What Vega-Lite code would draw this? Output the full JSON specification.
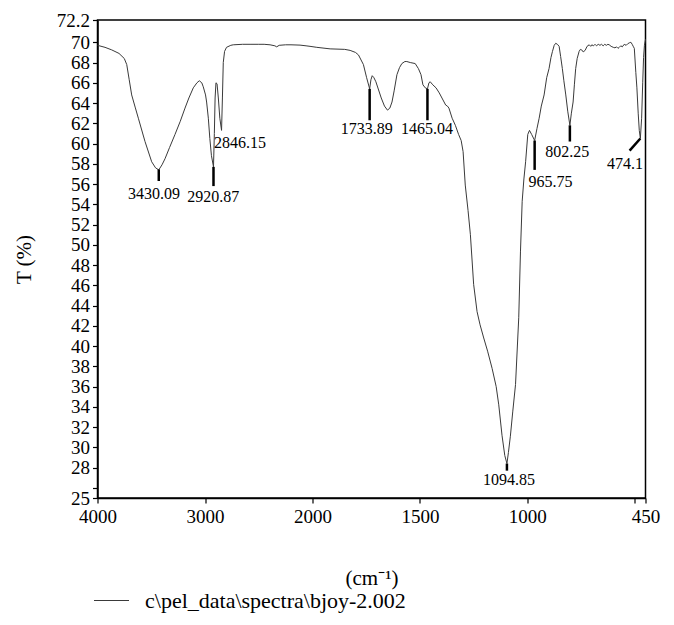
{
  "$schema": "https://vega.github.io/schema/vega-lite/v6.json",
  "width": 548,
  "height": 478,
  "autosize": {"type": "none"},
  "padding": {"left": 97.5, "top": 20, "right": 28.5, "bottom": 127},
  "background": "white",
  "config": {
    "font": "Liberation Serif",
    "view": {"stroke": "black", "strokeWidth": 1.5},
    "axis": {
      "labelFont": "Liberation Serif",
      "labelFontSize": 19,
      "labelColor": "black",
      "labelOverlap": false,
      "labelSeparation": 0,
      "labelBound": false,
      "domainColor": "black",
      "domainWidth": 1.5,
      "tickColor": "black",
      "tickWidth": 1.2,
      "tickSize": 5,
      "grid": false,
      "titleFont": "Liberation Serif",
      "titleFontSize": 21,
      "titleFontWeight": "normal",
      "titleColor": "black"
    }
  },
  "datasets": {
    "spectrum": [
      {"wn": 4000, "T": 69.7}, {"wn": 3930, "T": 69.5}, {"wn": 3868, "T": 69.25}, {"wn": 3800, "T": 68.9},
      {"wn": 3751, "T": 68.4}, {"wn": 3728, "T": 67.8}, {"wn": 3705, "T": 66.3}, {"wn": 3682, "T": 64.8},
      {"wn": 3650, "T": 63.6}, {"wn": 3620, "T": 62.5}, {"wn": 3558, "T": 60.2}, {"wn": 3496, "T": 58.2},
      {"wn": 3460, "T": 57.6}, {"wn": 3430, "T": 57.4}, {"wn": 3400, "T": 57.9}, {"wn": 3372, "T": 58.5},
      {"wn": 3330, "T": 59.6}, {"wn": 3279, "T": 60.9}, {"wn": 3230, "T": 62.2}, {"wn": 3186, "T": 63.5},
      {"wn": 3150, "T": 64.5}, {"wn": 3109, "T": 65.5}, {"wn": 3075, "T": 66.0}, {"wn": 3053, "T": 66.2},
      {"wn": 3030, "T": 66.0}, {"wn": 3016, "T": 65.6}, {"wn": 2995, "T": 64.8}, {"wn": 2985, "T": 64.1},
      {"wn": 2969, "T": 62.5}, {"wn": 2955, "T": 60.5}, {"wn": 2940, "T": 58.8}, {"wn": 2921, "T": 57.7},
      {"wn": 2913, "T": 61.0}, {"wn": 2906, "T": 64.5}, {"wn": 2898, "T": 66.0}, {"wn": 2888, "T": 65.9},
      {"wn": 2876, "T": 64.5}, {"wn": 2862, "T": 62.5}, {"wn": 2846, "T": 61.3}, {"wn": 2838, "T": 64.5},
      {"wn": 2830, "T": 68.0}, {"wn": 2818, "T": 69.1}, {"wn": 2800, "T": 69.5}, {"wn": 2760, "T": 69.7},
      {"wn": 2737, "T": 69.75}, {"wn": 2650, "T": 69.8}, {"wn": 2581, "T": 69.8}, {"wn": 2500, "T": 69.8},
      {"wn": 2450, "T": 69.8}, {"wn": 2395, "T": 69.75}, {"wn": 2350, "T": 69.65}, {"wn": 2333, "T": 69.55},
      {"wn": 2310, "T": 69.7}, {"wn": 2250, "T": 69.75}, {"wn": 2200, "T": 69.75}, {"wn": 2116, "T": 69.72},
      {"wn": 2060, "T": 69.65}, {"wn": 2023, "T": 69.6}, {"wn": 1980, "T": 69.5}, {"wn": 1918, "T": 69.35},
      {"wn": 1850, "T": 69.3}, {"wn": 1825, "T": 69.2}, {"wn": 1800, "T": 69.0}, {"wn": 1786, "T": 68.75},
      {"wn": 1763, "T": 67.8}, {"wn": 1748, "T": 66.5}, {"wn": 1734, "T": 65.4}, {"wn": 1728, "T": 66.3},
      {"wn": 1722, "T": 66.7}, {"wn": 1714, "T": 66.5}, {"wn": 1705, "T": 66.1}, {"wn": 1680, "T": 64.5},
      {"wn": 1665, "T": 63.7}, {"wn": 1651, "T": 63.3}, {"wn": 1640, "T": 63.5}, {"wn": 1630, "T": 64.1},
      {"wn": 1620, "T": 65.2}, {"wn": 1607, "T": 66.8}, {"wn": 1595, "T": 67.5}, {"wn": 1584, "T": 67.9},
      {"wn": 1570, "T": 68.1}, {"wn": 1561, "T": 68.1}, {"wn": 1545, "T": 68.0}, {"wn": 1522, "T": 67.9},
      {"wn": 1507, "T": 67.4}, {"wn": 1495, "T": 66.8}, {"wn": 1486, "T": 65.8}, {"wn": 1475, "T": 65.5},
      {"wn": 1465, "T": 65.4}, {"wn": 1458, "T": 66.0}, {"wn": 1452, "T": 66.1}, {"wn": 1440, "T": 65.8},
      {"wn": 1425, "T": 65.5}, {"wn": 1410, "T": 65.0}, {"wn": 1395, "T": 64.4}, {"wn": 1380, "T": 63.8},
      {"wn": 1372, "T": 63.7}, {"wn": 1365, "T": 63.5}, {"wn": 1350, "T": 62.5}, {"wn": 1335, "T": 61.8},
      {"wn": 1320, "T": 60.9}, {"wn": 1308, "T": 60.3}, {"wn": 1299, "T": 59.2}, {"wn": 1289, "T": 55.9},
      {"wn": 1276, "T": 53.4}, {"wn": 1265, "T": 51.0}, {"wn": 1250, "T": 46.1}, {"wn": 1234, "T": 43.4},
      {"wn": 1220, "T": 42.1}, {"wn": 1203, "T": 40.8}, {"wn": 1185, "T": 39.5}, {"wn": 1164, "T": 37.8},
      {"wn": 1145, "T": 36.0}, {"wn": 1133, "T": 34.2}, {"wn": 1118, "T": 31.2}, {"wn": 1105, "T": 29.2},
      {"wn": 1095, "T": 28.4}, {"wn": 1088, "T": 29.5}, {"wn": 1079, "T": 31.1}, {"wn": 1068, "T": 33.5},
      {"wn": 1055, "T": 36.2}, {"wn": 1040, "T": 42.8}, {"wn": 1032, "T": 49.3}, {"wn": 1024, "T": 54.3},
      {"wn": 1016, "T": 56.5}, {"wn": 1008, "T": 58.2}, {"wn": 998, "T": 60.9}, {"wn": 990, "T": 61.3},
      {"wn": 980, "T": 60.9}, {"wn": 966, "T": 60.3}, {"wn": 955, "T": 61.5}, {"wn": 945, "T": 62.5},
      {"wn": 935, "T": 63.7}, {"wn": 922, "T": 64.8}, {"wn": 910, "T": 66.5}, {"wn": 899, "T": 67.4},
      {"wn": 890, "T": 68.5}, {"wn": 883, "T": 69.1}, {"wn": 875, "T": 69.7}, {"wn": 868, "T": 69.9},
      {"wn": 860, "T": 69.8}, {"wn": 852, "T": 69.6}, {"wn": 845, "T": 68.6}, {"wn": 837, "T": 67.4},
      {"wn": 830, "T": 66.2}, {"wn": 821, "T": 64.8}, {"wn": 812, "T": 63.2}, {"wn": 802, "T": 61.8},
      {"wn": 795, "T": 63.0}, {"wn": 787, "T": 64.1}, {"wn": 781, "T": 65.8}, {"wn": 775, "T": 67.4},
      {"wn": 768, "T": 68.4}, {"wn": 759, "T": 69.1}, {"wn": 753, "T": 69.3}, {"wn": 747, "T": 69.25},
      {"wn": 740, "T": 69.05}, {"wn": 731, "T": 69.2}, {"wn": 722, "T": 69.6}, {"wn": 712, "T": 69.75},
      {"wn": 705, "T": 69.6}, {"wn": 700, "T": 69.75}, {"wn": 692, "T": 69.65}, {"wn": 685, "T": 69.8},
      {"wn": 678, "T": 69.65}, {"wn": 670, "T": 69.8}, {"wn": 662, "T": 69.7}, {"wn": 655, "T": 69.8},
      {"wn": 647, "T": 69.65}, {"wn": 640, "T": 69.8}, {"wn": 632, "T": 69.7}, {"wn": 625, "T": 69.8},
      {"wn": 619, "T": 69.75}, {"wn": 610, "T": 69.6}, {"wn": 600, "T": 69.5}, {"wn": 592, "T": 69.45},
      {"wn": 585, "T": 69.55}, {"wn": 578, "T": 69.4}, {"wn": 572, "T": 69.5}, {"wn": 565, "T": 69.65},
      {"wn": 558, "T": 69.55}, {"wn": 549, "T": 69.8}, {"wn": 540, "T": 69.7}, {"wn": 533, "T": 69.85},
      {"wn": 525, "T": 69.95}, {"wn": 518, "T": 70.0}, {"wn": 512, "T": 69.8}, {"wn": 506, "T": 69.55},
      {"wn": 502, "T": 69.4}, {"wn": 495, "T": 67.0}, {"wn": 490, "T": 65.5}, {"wn": 484, "T": 63.0},
      {"wn": 479, "T": 61.3}, {"wn": 474, "T": 60.5}, {"wn": 468, "T": 62.5}, {"wn": 463, "T": 66.0},
      {"wn": 459, "T": 68.5}, {"wn": 455, "T": 69.7}, {"wn": 450, "T": 70.3}
    ],
    "ticks": [
      {"wn": 3430, "T": 57.45, "wn2": 3430, "T2": 56.3},
      {"wn": 2921, "T": 57.7, "wn2": 2921, "T2": 55.8},
      {"wn": 1734, "T": 65.4, "wn2": 1734, "T2": 62.3},
      {"wn": 1465, "T": 65.4, "wn2": 1465, "T2": 62.3},
      {"wn": 1095, "T": 28.4, "wn2": 1095, "T2": 27.7},
      {"wn": 966, "T": 60.3, "wn2": 966, "T2": 57.4},
      {"wn": 802, "T": 61.8, "wn2": 802, "T2": 60.2},
      {"wn": 474, "T": 60.5, "wn2": 524, "T2": 59.3}
    ],
    "labels": [
      {"wn": 3474, "T": 55.06, "label": "3430.09"},
      {"wn": 2923, "T": 54.77, "label": "2920.87"},
      {"wn": 2674, "T": 60.03, "label": "2846.15"},
      {"wn": 1747, "T": 61.41, "label": "1733.89"},
      {"wn": 1467, "T": 61.41, "label": "1465.04"},
      {"wn": 1085, "T": 26.76, "label": "1094.85"},
      {"wn": 892, "T": 56.25, "label": "965.75"},
      {"wn": 814, "T": 59.21, "label": "802.25"},
      {"wn": 545, "T": 57.96, "label": "474.1"}
    ]
  },
  "layer": [
    {
      "data": {"name": "spectrum"},
      "mark": {"type": "line", "strokeWidth": 1, "interpolate": "linear"},
      "encoding": {
        "x": {
          "field": "wn",
          "type": "quantitative",
          "sort": null,
          "scale": {"domain": [4000, 2000, 450], "range": [0, 215, 548], "nice": false, "zero": false},
          "axis": {
            "title": "(cm⁻¹)",
            "values": [4000, 3000, 2000, 1500, 1000, 500, 450],
            "tickCount": 20,
            "format": "d",
            "labelExpr": "datum.value == 500 ? '' : datum.label",
            "labelFlush": false,
            "labelOverlap": false,
            "labelPadding": 4,
            "titlePadding": 41
          }
        },
        "y": {
          "field": "T",
          "type": "quantitative",
          "scale": {"domain": [25, 72.2], "nice": false, "zero": false},
          "axis": {
            "title": "T (%)",
            "values": [25, 26, 28, 30, 32, 34, 36, 38, 40, 42, 44, 46, 48, 50, 52, 54, 56, 58, 60, 62, 64, 66, 68, 70, 72.2],
            "tickCount": 40,
            "labelExpr": "datum.value == 26 ? '' : '' + datum.value",
            "labelOverlap": false,
            "labelSeparation": 0,
            "labelPadding": 3,
            "titlePadding": 22
          }
        },
        "order": {"field": "wn", "sort": "descending"},
        "color": {
          "datum": "c\\pel_data\\spectra\\bjoy-2.002",
          "type": "nominal",
          "scale": {"range": ["#3a3a3a"]},
          "legend": {
            "title": null,
            "orient": "none",
            "legendX": -4.5,
            "legendY": 562,
            "padding": 0,
            "symbolType": "stroke",
            "symbolSize": 1225,
            "symbolStrokeWidth": 1.2,
            "labelFont": "Liberation Serif",
            "labelFontSize": 22,
            "labelColor": "black",
            "labelOffset": 15,
            "labelLimit": 0
          }
        }
      }
    },
    {
      "data": {"name": "ticks"},
      "mark": {"type": "rule", "color": "black", "strokeWidth": 2.5},
      "encoding": {
        "x": {"field": "wn", "type": "quantitative"},
        "y": {"field": "T", "type": "quantitative"},
        "x2": {"field": "wn2"},
        "y2": {"field": "T2"}
      }
    },
    {
      "data": {"name": "labels"},
      "mark": {"type": "text", "font": "Liberation Serif", "fontSize": 16, "color": "black", "align": "center", "baseline": "middle"},
      "encoding": {
        "x": {"field": "wn", "type": "quantitative"},
        "y": {"field": "T", "type": "quantitative"},
        "text": {"field": "label"}
      }
    }
  ]
}
